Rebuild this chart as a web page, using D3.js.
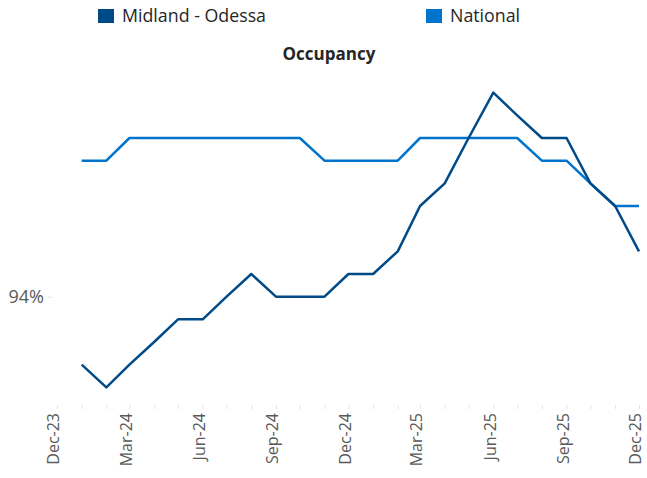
<!DOCTYPE html>
<html>
<head>
<meta charset="utf-8">
<script src="https://cdn.jsdelivr.net/npm/d3@7"></script>
<style>
  body { margin: 0; background: #fff; }
  svg text { font-family: "Open Sans", "Noto Sans", sans-serif; }
</style>
</head>
<body>
<div id="chart"></div>
<script>
// months Jan-24 .. Dec-25
const months = d3.timeMonths(new Date(2024, 0, 1), new Date(2026, 0, 1));
const midland = [93.7, 93.6, 93.7, 93.8, 93.9, 93.9, 94.0, 94.1, 94.0, 94.0, 94.0, 94.1,
                 94.1, 94.2, 94.4, 94.5, 94.7, 94.9, 94.8, 94.7, 94.7, 94.5, 94.4, 94.2];
const national = [94.6, 94.6, 94.7, 94.7, 94.7, 94.7, 94.7, 94.7, 94.7, 94.7, 94.6, 94.6,
                  94.6, 94.6, 94.7, 94.7, 94.7, 94.7, 94.7, 94.6, 94.6, 94.5, 94.4, 94.4];
const seriesNames = ['Midland - Odessa', 'National'];
const seriesColors = ['#004B87', '#0074CC'];
const yTicks = [94];

const width = 647, height = 478;

const svg = d3.select('#chart').append('svg')
    .attr('width', width)
    .attr('height', height);

// scales
const x = d3.scaleTime()
    .domain([new Date(2023, 11, 1), new Date(2025, 11, 1)])
    .range([57, 639]);
const y = d3.scaleLinear()
    .domain([93.5, 95.0])
    .range([410, 70]);

// legend
const legendX = [98, 426];
const legend = svg.selectAll('g.legend')
    .data(seriesNames)
    .join('g')
    .classed('legend', true)
    .attr('transform', (d, i) => `translate(${legendX[i]},9)`);
legend.append('rect')
    .attr('width', 16)
    .attr('height', 14)
    .attr('fill', (d, i) => seriesColors[i]);
legend.append('text')
    .attr('x', 24)
    .attr('y', 13)
    .style('font-size', '17.8px')
    .attr('fill', '#262626')
    .text(d => d);

// title
svg.append('text')
    .attr('x', 329)
    .attr('y', 60)
    .attr('text-anchor', 'middle')
    .style('font-size', '17px')
    .style('font-weight', 'bold')
    .attr('fill', '#262626')
    .text('Occupancy');

// x axis: monthly ticks, labels every 3 months
const xAxis = d3.axisBottom(x)
    .ticks(d3.timeMonth.every(1))
    .tickSize(4)
    .tickFormat(d => d.getMonth() % 3 === 2 ? d3.timeFormat('%b-%y')(d) : '');
const gx = svg.append('g')
    .attr('transform', 'translate(0,405)')
    .call(xAxis);
gx.select('.domain').remove();
gx.selectAll('.tick line').attr('stroke', '#e3e3e3');
gx.selectAll('.tick text')
    .attr('transform', 'rotate(-90)')
    .attr('text-anchor', 'end')
    .attr('x', -8)
    .attr('y', 0)
    .attr('dy', '0.12em')
    .style('font-size', '16px')
    .style('font-family', '"Open Sans", sans-serif')
    .attr('fill', '#595959');

// y axis: single label
const yAxis = d3.axisLeft(y)
    .tickValues(yTicks)
    .tickSize(4)
    .tickPadding(4)
    .tickFormat(d => d + '%');
const gy = svg.append('g')
    .attr('transform', 'translate(52,0)')
    .call(yAxis);
gy.select('.domain').remove();
gy.selectAll('.tick line').attr('stroke', '#e3e3e3');
gy.selectAll('.tick text')
    .style('font-size', '18px')
    .style('font-family', '"Open Sans", sans-serif')
    .attr('fill', '#595959');

// lines
const line = d3.line()
    .x((d, i) => x(months[i]))
    .y(d => y(d));
svg.selectAll('path.series')
    .data([national, midland])
    .join('path')
    .classed('series', true)
    .attr('fill', 'none')
    .attr('stroke', (d, i) => i === 0 ? seriesColors[1] : seriesColors[0])
    .attr('stroke-width', 2.5)
    .attr('stroke-linejoin', 'round')
    .attr('d', line);
</script>
</body>
</html>
